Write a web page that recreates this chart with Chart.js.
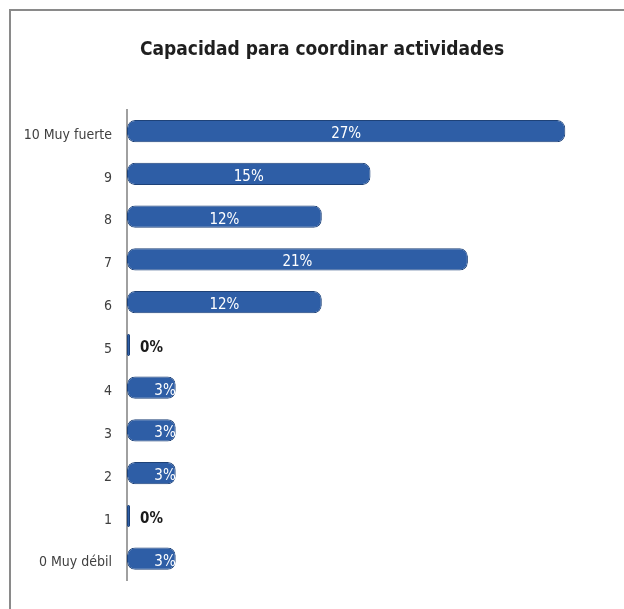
<!DOCTYPE html>
<html>
<head>
<meta charset="utf-8">
<script src="https://cdn.jsdelivr.net/npm/chart.js@4.4.1/dist/chart.umd.min.js"></script>
<style>
  html, body { margin: 0; padding: 0; background: #fff; }
  #wrap { position: relative; width: 624px; height: 609px; }
  #frame { position: absolute; left: 9px; top: 9px; width: 615px; height: 600px;
           border-left: 2px solid #8a8a8a; border-top: 2px solid #8a8a8a; box-sizing: border-box; }
  canvas { position: absolute; left: 0; top: 0; }
</style>
</head>
<body>
<div id="wrap">
  <div id="frame"></div>
  <canvas id="c" width="624" height="609"></canvas>
</div>
<script>
const categories = ["10 Muy fuerte", "9", "8", "7", "6", "5", "4", "3", "2", "1", "0 Muy débil"];
const values = [27, 15, 12, 21, 12, 0, 3, 3, 3, 0, 3];
const valueLabels = ["27%", "15%", "12%", "21%", "12%", "0%", "3%", "3%", "3%", "0%", "3%"];
const chartTitle = "Capacidad para coordinar actividades";

const FONT = "'DejaVu Sans Condensed', 'Liberation Sans Narrow', 'Liberation Sans', Arial, sans-serif";

const labelPlugin = {
  id: 'barLabels',
  afterLayout(chart) {
    // let the category labels use the space left of the axis (under the shifted title area)
    chart.scales.y.left = 0;
  },
  afterDatasetsDraw(chart) {
    const ctx = chart.ctx;
    const meta = chart.getDatasetMeta(0);
    ctx.save();
    ctx.textBaseline = 'middle';
    meta.data.forEach((bar, i) => {
      const v = values[i];
      const txt = valueLabels[i];
      const y = bar.y + 3;
      if (v === 0) {
        ctx.font = "bold 15px " + FONT;
        ctx.fillStyle = '#1a1a1a';
        ctx.textAlign = 'left';
        ctx.fillText(txt, bar.x + 10, y);
      } else if (v < 6) {
        ctx.font = "15px " + FONT;
        ctx.fillStyle = '#ffffff';
        ctx.textAlign = 'right';
        ctx.fillText(txt, bar.x, y);
      } else {
        ctx.font = "15px " + FONT;
        ctx.fillStyle = '#ffffff';
        ctx.textAlign = 'center';
        ctx.fillText(txt, (bar.base + bar.x) / 2, y);
      }
    });
    ctx.restore();
  }
};

new Chart(document.getElementById('c'), {
  type: 'bar',
  data: {
    labels: categories,
    datasets: [{
      data: values,
      backgroundColor: (context) => {
        const chart = context.chart;
        const el = context.element;
        if (!el || el.y === undefined || isNaN(el.y)) return '#2E5EA6';
        const h = el.height || 22;
        const g = chart.ctx.createLinearGradient(0, el.y - h / 2, 0, el.y + h / 2);
        g.addColorStop(0, '#3A6CB4');
        g.addColorStop(0.5, '#2F5FA7');
        g.addColorStop(1, '#234C8A');
        return g;
      },
      borderColor: '#1E4278',
      borderWidth: 1,
      borderRadius: 8,
      borderSkipped: false,
      minBarLength: 3,
      barPercentage: 0.52,
      categoryPercentage: 1.0
    }]
  },
  options: {
    indexAxis: 'y',
    responsive: false,
    animation: false,
    layout: { padding: { left: 30, right: 10, top: 10, bottom: 29 } },
    plugins: {
      legend: { display: false },
      tooltip: { enabled: false },
      title: {
        display: true,
        text: chartTitle,
        color: '#1f1f1f',
        font: { family: FONT, size: 19, weight: 'bold' },
        padding: { top: 29, bottom: 48 }
      }
    },
    scales: {
      x: {
        display: false,
        min: 0,
        max: 30,
        grid: { display: false }
      },
      y: {
        grid: { display: false, drawTicks: false },
        border: { display: true, color: '#a0a0a0', width: 2 },
        ticks: {
          color: '#404040',
          font: { family: FONT, size: 14 },
          padding: 15,
          labelOffset: 4
        },
        afterFit(scale) { scale.width = 97; }
      }
    }
  },
  plugins: [labelPlugin]
});
</script>
</body>
</html>
